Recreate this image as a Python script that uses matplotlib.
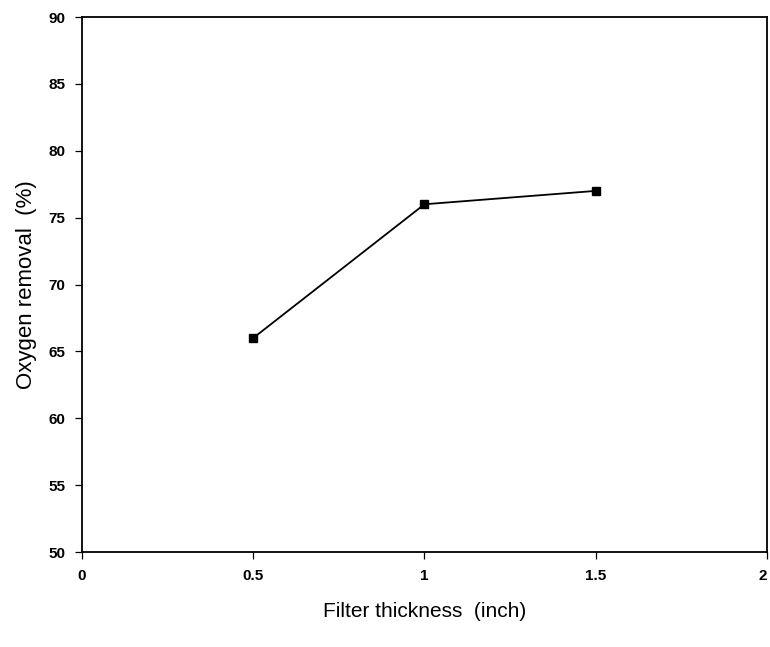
import matplotlib.pyplot as plt

# filter thickness vs oxygen removal
thickness = [0.5, 1.0, 1.5]
removal = [66, 76, 77]
x_ticks = [0, 0.5, 1, 1.5, 2]
x_tick_labels = ["0", "0.5", "1", "1.5", "2"]
y_ticks = [50, 55, 60, 65, 70, 75, 80, 85, 90]

plt.rcParams['font.family'] = ['Liberation Sans', 'DejaVu Sans']

fig = plt.figure(figsize=(7.7, 6.47), dpi=100)
ax = fig.add_axes([0.1065, 0.1468, 0.8895, 0.8269])

ax.plot(thickness, removal, color='black', linewidth=1.3,
        marker='s', markersize=6, markerfacecolor='black')

ax.set_xlim(0, 2)
ax.set_ylim(50, 90)
ax.set_xticks(x_ticks)
ax.set_xticklabels(x_tick_labels)
ax.set_yticks(y_ticks)
ax.tick_params(direction='out', length=5, width=0.9, labelsize=11, pad=7)
for lab in ax.get_xticklabels() + ax.get_yticklabels():
    lab.set_fontweight('bold')
# keep the last x label inside the canvas
ax.get_xticklabels()[-1].set_horizontalalignment('right')

for s in ax.spines.values():
    s.set_linewidth(1.3)

ax.set_xlabel("Filter thickness  (inch)", fontsize=15, labelpad=14)
ax.set_ylabel("Oxygen removal  (%)", fontsize=16, labelpad=8)

fig.savefig("out.png", dpi=100)
